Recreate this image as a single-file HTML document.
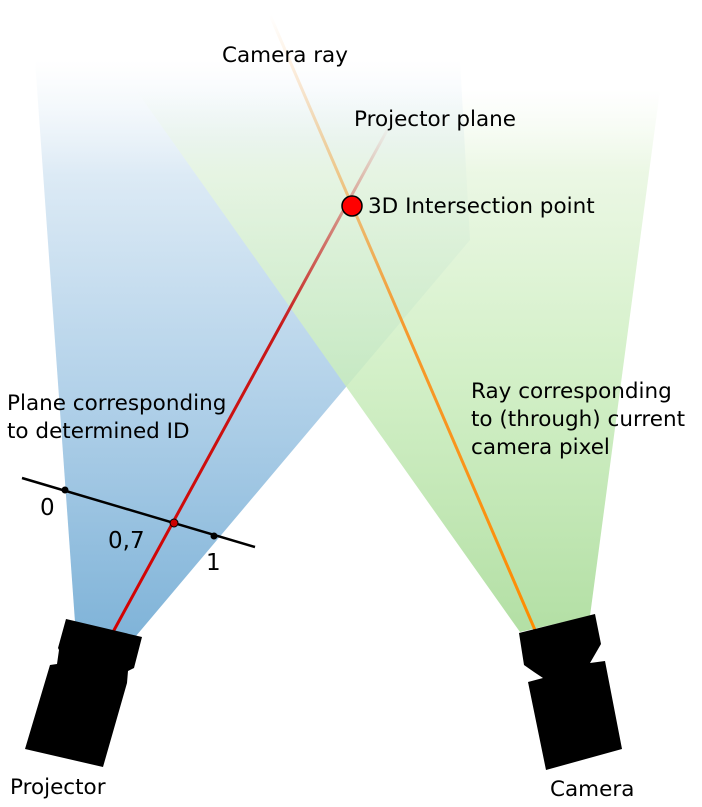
<!DOCTYPE html>
<html><head><meta charset="utf-8"><style>
html,body{margin:0;padding:0;background:#fff;}
svg{display:block;}
text{font-family:"DejaVu Sans","Liberation Sans",sans-serif;font-size:21.5px;fill:#000;}
</style></head><body>
<svg width="702" height="807" viewBox="0 0 702 807">
<defs>
<linearGradient id="blue" x1="0" y1="640" x2="0" y2="60" gradientUnits="userSpaceOnUse">
<stop offset="0" stop-color="#7fb3d8"/><stop offset="0.45" stop-color="#b5d3ea"/><stop offset="0.8" stop-color="#dceaf5"/><stop offset="1" stop-color="#e8f1f8" stop-opacity="0"/>
</linearGradient>
<linearGradient id="green" x1="0" y1="630" x2="0" y2="90" gradientUnits="userSpaceOnUse">
<stop offset="0" stop-color="#a6da95"/><stop offset="0.5" stop-color="#cdeec0"/><stop offset="0.85" stop-color="#e8f6e0"/><stop offset="1" stop-color="#eef8e8" stop-opacity="0"/>
</linearGradient>
<linearGradient id="red" x1="113" y1="632" x2="390" y2="125" gradientUnits="userSpaceOnUse">
<stop offset="0" stop-color="#d40000"/><stop offset="0.6" stop-color="#c81818"/><stop offset="1" stop-color="#c81818" stop-opacity="0"/>
</linearGradient>
<linearGradient id="org" x1="535" y1="630" x2="270" y2="15" gradientUnits="userSpaceOnUse">
<stop offset="0" stop-color="#ff8c00"/><stop offset="0.5" stop-color="#f59a30"/><stop offset="1" stop-color="#f5a040" stop-opacity="0"/>
</linearGradient>
</defs>
<polygon points="75,622 136,636 470,240 460,60 35,60" fill="url(#blue)"/>
<polygon points="520,632 590,616 660,90 136,90" fill="url(#green)" opacity="0.85"/>
<line x1="113" y1="632" x2="390" y2="125" stroke="url(#red)" stroke-width="3"/>
<line x1="535" y1="630" x2="270" y2="15" stroke="url(#org)" stroke-width="3"/>
<circle cx="352" cy="206" r="10" fill="#f00" stroke="#000" stroke-width="1.5"/>
<line x1="22" y1="478" x2="255" y2="547" stroke="#000" stroke-width="2.5"/>
<circle cx="65" cy="490" r="3.5" fill="#000"/>
<circle cx="174" cy="523" r="4" fill="#c00" stroke="#000" stroke-width="1"/>
<circle cx="214" cy="536" r="3.5" fill="#000"/>
<polygon points="66,619 142,637 134,668 128,671 127,683 103,767 25,749 50,665 57,664 59,650 58,648" fill="#000"/>
<polygon points="519,633 595,614 601,644 590,663 605,661 622,749 546,770 528,682 543,678 534,672 524,665" fill="#000"/>
<text x="222" y="62">Camera ray</text>
<text x="354" y="126">Projector plane</text>
<text x="368" y="213">3D Intersection point</text>
<text x="7" y="410">Plane corresponding</text>
<text x="7" y="438">to determined ID</text>
<text x="471" y="398">Ray corresponding</text>
<text x="471" y="426">to (through) current</text>
<text x="471" y="454">camera pixel</text>
<text x="40" y="515" style="font-size:23px">0</text>
<text x="108" y="548" style="font-size:23px">0,7</text>
<text x="206" y="570" style="font-size:23px">1</text>
<text x="10" y="794">Projector</text>
<text x="550" y="796">Camera</text>
</svg>
</body></html>
